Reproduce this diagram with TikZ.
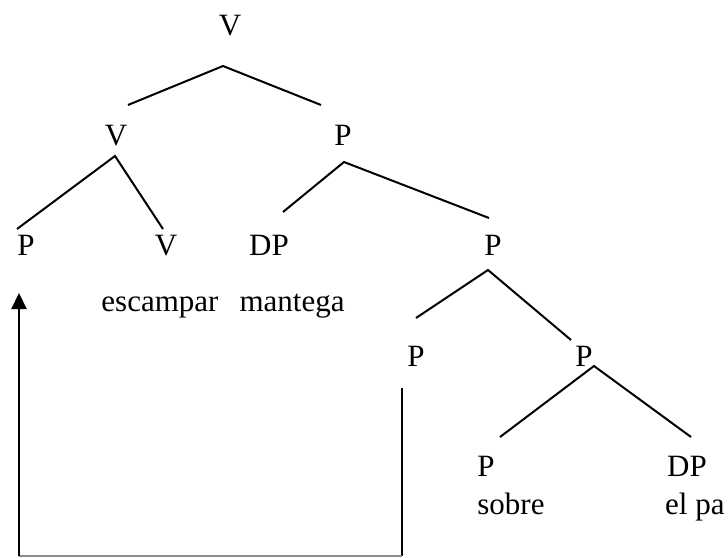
\documentclass[tikz,border=0pt]{standalone}
\usepackage{fontspec}
\setmainfont{Liberation Serif}
\usetikzlibrary{arrows.meta}
\begin{document}
\begin{tikzpicture}[x=1pt,y=-1pt,
  lbl/.style={anchor=base,inner sep=0pt,font=\fontsize{31}{36}\selectfont},
  word/.style={lbl},
  branch/.style={line width=2pt},
  move/.style={line width=2.2pt}]
\useasboundingbox (0,0) rectangle (728,557);

% category labels
\node[lbl] (v0) at (230,35) {V};
\node[lbl] (v1) at (116,145) {V};
\node[lbl] (p1) at (343,145) {P};
\node[lbl] (p2) at (26,255) {P};
\node[lbl] (v2) at (166,255) {V};
\node[lbl] (dp1) at (269,255) {DP};
\node[lbl] (p3) at (493,255) {P};
\node[lbl] (p4) at (416,366) {P};
\node[lbl] (p5) at (584,366) {P};
\node[lbl] (p6) at (486,476) {P};
\node[lbl] (dp2) at (687,476) {DP};

% lexical items
\node[word] (w1) at (160,311) {escampar};
\node[word] (w2) at (292,311) {mantega};
\node[word] (w3) at (511,514) {sobre};
\node[word,anchor=base west] (w4) at (665,514) {el pa};

% branch end points
\coordinate (a0) at (223,66);
\coordinate (a0l) at (128,105);
\coordinate (a0r) at (321,105);
\coordinate (a1) at (115,156);
\coordinate (a1l) at (17,229);
\coordinate (a1r) at (163,229);
\coordinate (a2) at (344,162);
\coordinate (a2l) at (283,212);
\coordinate (a2r) at (489,218);
\coordinate (a3) at (488,270);
\coordinate (a3l) at (416,318);
\coordinate (a3r) at (571,340);
\coordinate (a4) at (594,366);
\coordinate (a4l) at (500,437);
\coordinate (a4r) at (691,437);

\draw[branch] (a0l) -- (a0) -- (a0r);
\draw[branch] (a1l) -- (a1) -- (a1r);
\draw[branch] (a2l) -- (a2) -- (a2r);
\draw[branch] (a3l) -- (a3) -- (a3r);
\draw[branch] (a4l) -- (a4) -- (a4r);

% movement path
\coordinate (m0) at (402,388);
\coordinate (m1) at (402,556);
\coordinate (m2) at (19,556);
\coordinate (m3) at (19,293);
\draw[move] (m0) -- (m1);
\draw[line width=1.2pt,black!45] (m1) -- (m2);
\draw[move,-{Triangle[length=16pt,width=15pt]}] (m2) -- (m3);
\end{tikzpicture}
\end{document}
